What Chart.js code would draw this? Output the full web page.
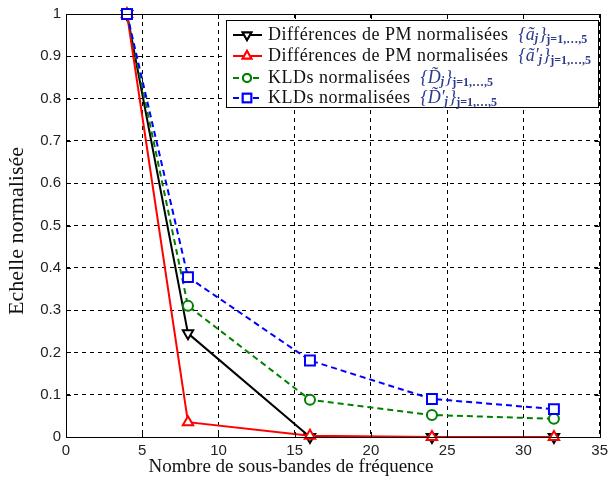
<!DOCTYPE html>
<html>
<head>
<meta charset="utf-8">
<script src="https://cdn.jsdelivr.net/npm/chart.js@4/dist/chart.umd.min.js"></script>
<style>
  html, body { margin: 0; padding: 0; background: #fff; }
  #wrap { width: 613px; height: 490px; position: relative; }
</style>
</head>
<body>
<div id="wrap"><canvas id="c"></canvas></div>
<script>
// sub-band counts (x) and normalised values
const bands = [4, 8, 16, 24, 32];
const pmDiff = [1, 0.245, 0, 0, 0];
const pmDiffPrime = [1, 0.035, 0.003, 0, 0];
const kld = [1, 0.31, 0.088, 0.052, 0.043];
const kldPrime = [1, 0.378, 0.181, 0.09, 0.066];

const xTicks = [0, 5, 10, 15, 20, 25, 30, 35];
const yTicks = [0, 0.1, 0.2, 0.3, 0.4, 0.5, 0.6, 0.7, 0.8, 0.9, 1];

const legendText = ['Différences de PM normalisées', 'Différences de PM normalisées', 'KLDs normalisées', 'KLDs normalisées'];
const legendMath = [['{ã', 'j', '}', 'j=1,…,5'], ['{ã′', 'j', '}', 'j=1,…,5'], ['{D̃', 'j', '}', 'j=1,…,5'], ['{D̃′', 'j', '}', 'j=1,…,5']];
const xTitle = 'Nombre de sous-bandes de fréquence';
const yTitle = 'Echelle normalisée';

function pts(arr) { return bands.map((b, i) => ({ x: b, y: arr[i] })); }

const serif = '"Liberation Serif", "DejaVu Serif", serif';
const sans = '"Liberation Sans", Arial, sans-serif';

// box around plot + inner ticks + axis titles + legend inside
const boxPlugin = {
  id: 'box',
  afterDraw(chart) {
    const ctx = chart.ctx, a = chart.chartArea;
    const xs = chart.scales.x, ys = chart.scales.y;
    ctx.save();
    ctx.strokeStyle = '#000';
    ctx.lineWidth = 1;
    ctx.setLineDash([]);
    ctx.beginPath();
    xTicks.forEach(t => {
      const px = Math.round(xs.getPixelForValue(t)) + 0.5;
      ctx.moveTo(px, a.bottom); ctx.lineTo(px, a.bottom - 5);
      ctx.moveTo(px, a.top); ctx.lineTo(px, a.top + 5);
    });
    yTicks.forEach(t => {
      const py = Math.round(ys.getPixelForValue(t)) + 0.5;
      ctx.moveTo(a.left, py); ctx.lineTo(a.left + 5, py);
      ctx.moveTo(a.right, py); ctx.lineTo(a.right - 5, py);
    });
    ctx.stroke();
    ctx.strokeRect(Math.round(a.left) + 0.5, Math.round(a.top) + 0.5, Math.round(a.right - a.left), Math.round(a.bottom - a.top));

    // axis titles (placed as in the original figure)
    ctx.fillStyle = '#111';
    ctx.textAlign = 'center';
    ctx.textBaseline = 'middle';
    ctx.font = '19px ' + serif;
    ctx.fillText(xTitle, 291, 467);
    ctx.save();
    ctx.translate(17, 231);
    ctx.rotate(-Math.PI / 2);
    ctx.font = '22px ' + serif;
    ctx.fillText(yTitle, 0, 0);
    ctx.restore();

    // legend
    const lx = 226, ly = 20, lw = 372, lh = 87;
    ctx.fillStyle = '#fff';
    ctx.fillRect(lx, ly, lw, lh);
    ctx.strokeRect(lx + 0.5, ly + 0.5, lw, lh);
    const rowsY = [35, 56, 78, 98];
    chart.data.datasets.forEach((ds, i) => {
      const y = rowsY[i];
      ctx.strokeStyle = ds.borderColor;
      ctx.lineWidth = 2;
      ctx.setLineDash(ds.borderDash || []);
      ctx.beginPath(); ctx.moveTo(233, y); ctx.lineTo(262, y); ctx.stroke();
      ctx.setLineDash([]);
      Chart.helpers.drawPoint(ctx, {
        pointStyle: ds.pointStyle, rotation: ds.pointRotation || 0,
        radius: ds.pointRadius - 1, borderWidth: 2
      }, 247, y);
      ctx.fillStyle = '#fff';
      ctx.fill();
      ctx.stroke();
      ctx.fillStyle = '#111';
      ctx.font = '18px ' + serif;
      ctx.letterSpacing = '0.5px';
      ctx.textBaseline = 'middle';
      ctx.textAlign = 'left';
      let x = 268;
      ctx.fillText(legendText[i], x, y);
      x += ctx.measureText(legendText[i]).width + 10;
      ctx.letterSpacing = '0px';
      const m = legendMath[i];
      ctx.fillStyle = '#2c3a8c';
      ctx.font = 'italic 18px ' + serif;
      ctx.fillText(m[0], x, y); x += ctx.measureText(m[0]).width;
      ctx.font = 'italic bold 12px ' + serif;
      ctx.fillText(m[1], x, y + 4); x += ctx.measureText(m[1]).width + 1;
      ctx.font = 'italic 18px ' + serif;
      ctx.fillText(m[2], x, y); x += ctx.measureText(m[2]).width;
      ctx.font = 'bold 12px ' + serif;
      ctx.fillText(m[3], x, y + 5);
    });
    ctx.restore();
  }
};

new Chart(document.getElementById('c'), {
  type: 'line',
  data: {
    datasets: [
      { label: 'pm', data: pts(pmDiff), borderColor: '#000', pointStyle: 'triangle', pointRotation: 180, pointRadius: 6, order: 4 },
      { label: 'pm2', data: pts(pmDiffPrime), borderColor: '#ff0000', pointStyle: 'triangle', pointRadius: 6, order: 3 },
      { label: 'kld', data: pts(kld), borderColor: '#008000', pointStyle: 'circle', pointRadius: 5, borderDash: [6, 4], order: 2 },
      { label: 'kld2', data: pts(kldPrime), borderColor: '#0000ff', pointStyle: 'rect', pointRadius: 7, borderDash: [6, 4], order: 1 }
    ].map(d => Object.assign({
      backgroundColor: '#fff', pointBackgroundColor: '#fff', pointBorderColor: d.borderColor,
      borderWidth: 2, pointBorderWidth: 2, tension: 0, clip: false
    }, d))
  },
  options: {
    responsive: true,
    maintainAspectRatio: false,
    animation: false,
    layout: { padding: { top: 14, right: 11, left: 0, bottom: 0 } },
    plugins: { legend: { display: false }, tooltip: { enabled: false } },
    scales: {
      x: {
        type: 'linear', min: 0, max: 35,
        afterBuildTicks: s => { s.ticks = xTicks.map(v => ({ value: v })); },
        afterFit: s => { s.height = 53; },
        ticks: { color: '#222', font: { family: sans, size: 15 }, padding: 5 },
        grid: { color: '#000', lineWidth: 1, drawTicks: false },
        border: { display: false, dash: [4, 4] },
        title: { display: false }
      },
      y: {
        min: 0, max: 1,
        afterBuildTicks: s => { s.ticks = yTicks.map(v => ({ value: v })); },
        afterFit: s => { s.width = 66; },
        ticks: { color: '#222', font: { family: sans, size: 15 }, padding: 5, callback: v => String(Math.round(v * 10) / 10) },
        grid: { color: '#000', lineWidth: 1, drawTicks: false },
        border: { display: false, dash: [4, 4] },
        title: { display: false }
      }
    }
  },
  plugins: [boxPlugin]
});
</script>
</body>
</html>
